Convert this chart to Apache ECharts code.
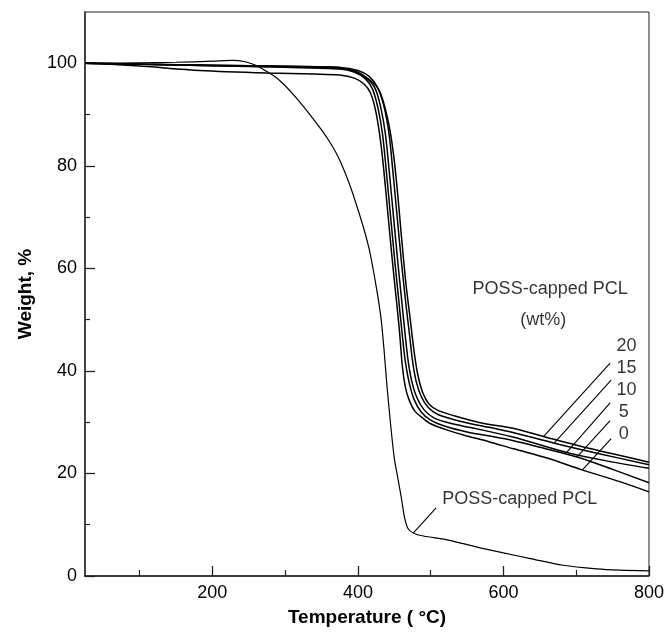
<!DOCTYPE html>
<html><head><meta charset="utf-8">
<script src="https://cdn.jsdelivr.net/npm/echarts@6/dist/echarts.min.js"></script>
<style>html,body{margin:0;padding:0;background:#fff}#c{width:667px;height:633px}</style>
</head><body><div id="c"></div>
<script>
// ---- data (Temperature °C, Weight %) ----
const wt0 = [[25,100],[60,99.8],[105,99.4],[183,98.6],[275,98.1],[340,97.9],[375,97.7],[395,97.1],[408,96.0],[417,94.3],[424,91],[430,86],[435,80],[441,71],[447,62],[452,55],[457,48],[461,41],[465,37],[470,34.5],[478,32.2],[490,30.7],[500,29.7],[520,28.6],[545,27.5],[580,26.2],[614,24.8],[660,23.0],[708,20.7],[760,18.4],[800,16.4]];
const wt5 = [[25,100],[105,99.8],[200,99.5],[300,99.2],[375,98.9],[395,98.3],[410,97.0],[420,95.0],[428,91],[434,86],[439,79],[445,70],[451,61],[456,54],[461,47],[465,42],[470,38],[477,34.5],[487,32.0],[500,30.4],[520,29.2],[550,28.1],[600,26.8],[650,25.1],[701,23.2],[750,20.8],[800,18.2]];
const wt10 = [[25,100],[105,99.8],[200,99.5],[300,99.3],[375,99.0],[398,98.4],[413,97.0],[424,95.0],[432,91],[438,86],[443,79],[449,70],[455,61],[460,54],[465,47],[469,42],[474,38],[481,34.8],[491,32.4],[505,30.8],[530,29.7],[570,28.5],[613,27.1],[650,25.6],[687,24.1],[740,22.5],[800,21.0]];
const wt15 = [[25,100],[105,99.8],[200,99.6],[300,99.4],[375,99.2],[400,98.6],[415,97.5],[427,95.3],[436,91.5],[443,86],[448,79],[454,70],[460,61],[466,53],[471,47],[475,42],[480,38],[487,35],[497,32.8],[510,31.5],[540,30.2],[580,29.0],[613,28.0],[670,25.9],[730,23.9],[800,21.7]];
const wt20 = [[25,100],[105,99.8],[200,99.6],[300,99.4],[375,99.2],[403,97.8],[421,96.2],[430,94.5],[437,91.5],[444,87],[450,81],[455,74],[460,66],[466,57],[472,50],[477,44],[482,39.5],[489,35.8],[498,33.5],[510,32.3],[531,31.3],[568,29.9],[613,28.8],[655,27.2],[720,24.8],[800,22.2]];
const possPCL = [[25,100],[100,100.1],[150,100.2],[200,100.4],[228,100.55],[245,100.3],[258,99.7],[270,98.8],[285,97.5],[298,95.9],[315,93.3],[334,90.0],[350,87.0],[362,84.5],[372,82.0],[382,78.8],[392,75.0],[402,70.6],[410,66.8],[417,62.8],[423,58.2],[428,54.0],[432,50.0],[436,44.0],[440,37.0],[445,29.5],[450,23.0],[455,19.0],[460,15],[464,11.5],[469,9.2],[476,8.4],[490,7.8],[521,7.1],[545,6.3],[568,5.5],[600,4.5],[637,3.4],[682,2.1],[728,1.4],[760,1.15],[800,1.0]];

const xMajorTicks = [200,400,600,800];
const xMinorTicks = [100,300,500,700];
const yMajorTicks = [0,20,40,60,80,100];
const yMinorTicks = [10,30,50,70,90];
const seriesLabels = ['20','15','10','5','0'];

// ---- annotations (data coordinates) ----
const leaderLines = [
  [[746.6,41.5],[655,27.2]],
  [[748,38.2],[669.7,25.9]],
  [[746.6,33.75],[687,24.1]],
  [[746.6,30.3],[700.9,23.2]],
  [[748,26.8],[708.6,20.7]],
  [[507.5,13.3],[476.3,8.4]]
];
const labelPos = [[769,44.9],[769,40.6],[769,36.2],[765.5,31.9],[765.5,27.7]];
const textNotes = [
  {value:[664.2,55.95], name:'POSS-capped PCL'},
  {value:[654.6,50.0], name:'(wt%)'},
  {value:[622.5,15.06], name:'POSS-capped PCL'}
];

const FONT = 'Liberation Sans, Arial, sans-serif';
const chart = echarts.init(document.getElementById('c'), null, {renderer:'canvas'});

function curve(d, w){
  return {type:'line', data:d, showSymbol:false, smooth:0.3,
    lineStyle:{color:'#000', width:w}, silent:true, z:3};
}
const series = [curve(wt0,1.5),curve(wt5,1.5),curve(wt10,1.5),curve(wt15,1.5),curve(wt20,1.5),curve(possPCL,1.2)];
leaderLines.forEach(l=>series.push({type:'line', data:l, showSymbol:false, lineStyle:{color:'#000',width:1.1}, silent:true, z:4}));
series.push({type:'scatter', symbolSize:0, silent:true, z:5,
  data: seriesLabels.map((t,i)=>({value:labelPos[i], name:t})).concat(textNotes),
  label:{show:true, position:'inside', formatter:'{b}', fontSize:18, color:'#000', fontFamily:FONT, align:'center', verticalAlign:'middle'}
});

chart.setOption({
  animation:false,
  backgroundColor:'#fff',
  grid:{left:85, right:17, top:12, bottom:57, show:true, borderColor:'#222', borderWidth:1, backgroundColor:'transparent'},
  xAxis:[
    {type:'value', min:25, max:800, position:'bottom',
     axisLine:{show:true, lineStyle:{color:'#222', width:1.5}},
     axisTick:{show:true, inside:true, length:10, customValues:xMajorTicks, lineStyle:{color:'#222', width:1.3}},
     axisLabel:{customValues:xMajorTicks, margin:8, fontSize:18, color:'#000', fontFamily:FONT},
     splitLine:{show:false},
     name:'Temperature ( °C)', nameLocation:'middle', nameGap:32,
     nameTextStyle:{fontSize:19, fontWeight:'bold', color:'#000', fontFamily:FONT}},
    {type:'value', min:25, max:800, position:'bottom',
     axisLine:{show:false},
     axisTick:{show:true, inside:true, length:6, customValues:xMinorTicks, lineStyle:{color:'#222', width:1.2}},
     axisLabel:{show:false}, splitLine:{show:false}}
  ],
  yAxis:[
    {type:'value', min:0, max:110, position:'left',
     axisLine:{show:true, lineStyle:{color:'#444', width:2}},
     axisTick:{show:true, inside:true, length:10, customValues:yMajorTicks, lineStyle:{color:'#222', width:1.3}},
     axisLabel:{customValues:yMajorTicks, margin:8, fontSize:18, color:'#000', fontFamily:FONT},
     splitLine:{show:false},
     name:'Weight, %', nameLocation:'middle', nameGap:50,
     nameTextStyle:{fontSize:19, fontWeight:'bold', color:'#000', fontFamily:FONT}},
    {type:'value', min:0, max:110, position:'left',
     axisLine:{show:false},
     axisTick:{show:true, inside:true, length:5, customValues:yMinorTicks, lineStyle:{color:'#222', width:1.2}},
     axisLabel:{show:false}, splitLine:{show:false}}
  ],
  series: series
});
</script></body></html>
